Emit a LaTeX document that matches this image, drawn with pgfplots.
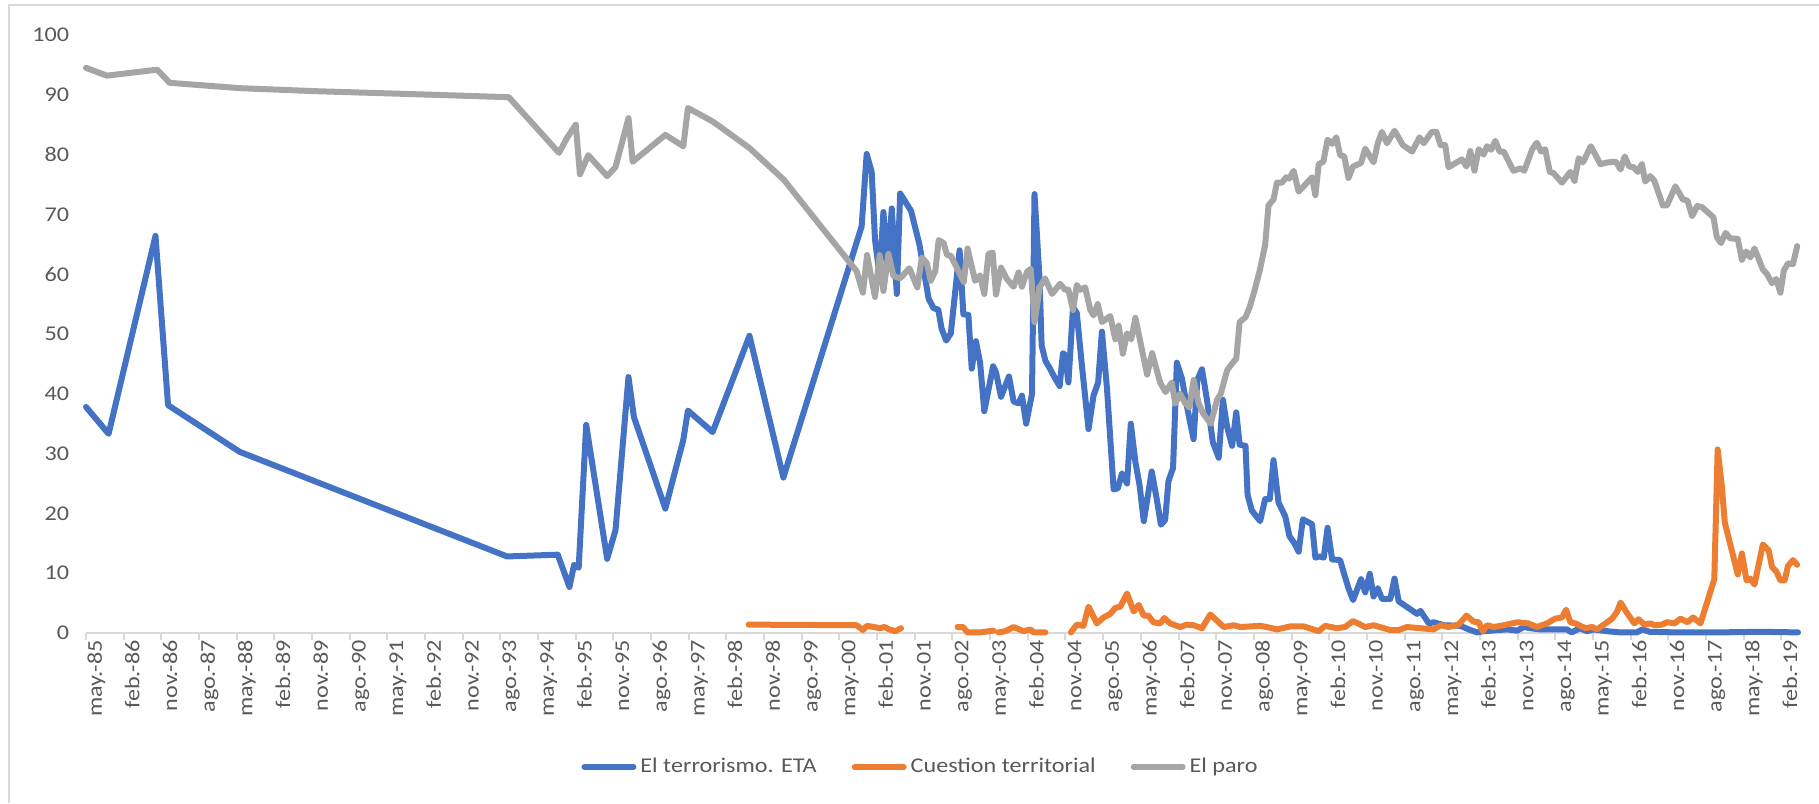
\documentclass[border=0pt]{standalone}
\usepackage{pgfplots}
\pgfplotsset{compat=1.18}
\usepackage{fontspec}
\setmainfont{Carlito}[FakeStretch=1.15]
\definecolor{etablue}{HTML}{4472C4}
\definecolor{terrorange}{HTML}{ED7D31}
\definecolor{parogray}{HTML}{A5A5A5}
\definecolor{textgray}{HTML}{595959}
\definecolor{axisgray}{HTML}{D9D9D9}
\newcommand\lbl{\fontsize{10.5pt}{12.5pt}\selectfont}
\begin{document}
\begin{tikzpicture}
\useasboundingbox (-43pt,-85pt) rectangle (866.5pt,316.5pt);
\draw[color=axisgray, line width=0.75pt] (-38.5pt,-85pt) -- (-38.5pt,314pt) -- (866.5pt,314pt);
\begin{axis}[
  at={(0pt,0pt)}, anchor=south west,
  scale only axis, width=856pt, height=299pt,
  xmin=0, xmax=409, ymin=0, ymax=100,
  clip=false,
  unbounded coords=jump,
  axis lines*=left,
  axis line style={-},
  x axis line style={draw=axisgray, line width=1pt},
  y axis line style={draw=none},
  tick align=outside,
  major tick length=3.5pt,
  xtick style={draw=axisgray, line width=1pt},
  ytick style={draw=none},
  xtick={0,9,...,405},
  xticklabels={may.-85,feb.-86,nov.-86,ago.-87,may.-88,feb.-89,nov.-89,ago.-90,may.-91,feb.-92,nov.-92,ago.-93,may.-94,feb.-95,nov.-95,ago.-96,may.-97,feb.-98,nov.-98,ago.-99,may.-00,feb.-01,nov.-01,ago.-02,may.-03,feb.-04,nov.-04,ago.-05,may.-06,feb.-07,nov.-07,ago.-08,may.-09,feb.-10,nov.-10,ago.-11,may.-12,feb.-13,nov.-13,ago.-14,may.-15,feb.-16,nov.-16,ago.-17,may.-18,feb.-19},
  ytick={0,10,...,100},
  /pgf/number format/assume math mode=true,
  tick label style={font=\lbl, text=textgray},
  xticklabel style={rotate=90, anchor=east, inner sep=0pt, text height=6.8pt, text depth=0pt, yshift=-4.5pt},
  yticklabel style={anchor=east, inner sep=0pt, xshift=-4.75pt},
  legend style={at={(0.488,-0.224)}, anchor=center, draw=none, fill=none,
    legend columns=3, font=\lbl, text=textgray,
    nodes={inner sep=2pt},
    /tikz/every even column/.append style={column sep=15.5pt}},
  legend image code/.code={\draw[#1, line width=3pt, line cap=round] (0pt,0pt) -- (24.5pt,0pt);},
  every axis plot/.append style={line width=3pt, line join=round, line cap=round, mark=none},
]
\addplot[etablue] coordinates {
(0,37.8) (5.4,33.3) (16.6,66.4) (19.6,38.1) (36.7,30.3) (100.6,12.8) (112.7,13.1) (115.5,7.7) (116.6,11.4) (117.7,10.9)
(119.5,34.8) (124.5,12.4) (126.5,17.2) (129.6,42.8) (130.9,36.1) (138.4,20.8) (142.7,32.3) (143.8,37.2) (149.7,33.6) (158.5,49.7)
(166.6,26.0) (185.3,68.0) (186.5,80.1) (187.7,77.1) (188.5,65.7) (189.6,59.8) (190.5,70.4) (191.5,61.2) (192.5,71.0) (193.7,56.7)
(194.5,73.5) (197.1,70.6) (199.1,65.0) (201.3,55.9) (202.5,54.3) (203.6,54.1) (204.4,50.9) (205.5,48.9) (206.6,50.1) (208.7,64.0)
(209.6,53.3) (210.8,53.2) (211.6,44.2) (212.6,48.8) (213.6,45.2) (214.6,37.1) (216.7,44.6) (217.4,43.6) (218.6,39.5) (220.5,42.9)
(221.6,38.7) (222.8,38.4) (223.6,39.7) (224.6,35.0) (226.0,40.0) (226.6,73.4) (227.8,59.2) (228.3,48.1) (229.2,45.5) (230.3,44.2)
(231.5,42.6) (232.6,41.3) (233.4,46.8) (233.9,46.5) (234.7,41.9) (235.8,54.5) (236.7,53.5) (237.9,44.9) (239.5,34.1) (240.7,39.7)
(241.8,41.9) (242.7,50.4) (243.9,41.0) (245.5,24.0) (246.5,24.2) (247.5,26.7) (248.7,25.0) (249.6,35.0) (250.7,28.6) (251.7,24.7)
(252.7,18.7) (254.6,27.0) (255.7,22.8) (256.8,18.1) (257.8,18.9) (258.6,25.4) (259.7,27.6) (260.6,45.2) (261.8,42.6) (262.8,38.7)
(263.6,35.8) (264.6,32.4) (265.5,42.3) (266.6,44.1) (267.8,39.0) (269.2,31.9) (270.6,29.3) (271.6,39.0) (272.6,34.5) (273.8,31.3)
(274.8,36.9) (275.6,31.5) (277.0,31.3) (277.5,23.1) (278.5,20.5) (280.5,18.7) (281.7,22.4) (282.8,22.4) (283.7,28.9) (284.9,21.8)
(286.5,19.5) (287.5,16.2) (288.6,15.1) (289.7,13.6) (290.7,19.0) (292.9,18.2) (293.7,12.6) (294.7,12.8) (295.7,12.6) (296.6,17.6)
(297.7,12.3) (299.6,12.2) (300.6,9.8) (301.6,7.5) (302.7,5.5) (304.6,9.0) (305.6,6.8) (306.7,9.9) (307.6,6.1) (308.6,7.5)
(309.6,5.7) (311.6,5.7) (312.6,9.1) (313.6,5.3) (318.0,3.2) (318.8,3.7) (320.8,1.6) (322.0,1.8) (324.4,1.3) (328.3,1.2)
(330.7,0.5) (332.3,0.1) (333.9,0.3) (339.5,0.6) (341.9,0.4) (343.5,1.0) (345.0,0.8) (347.4,0.6) (350.6,0.6) (353.8,0.6)
(354.9,0.1) (356.9,0.8) (358.6,0.3) (360.2,0.6) (363.4,0.3) (366.5,0.1) (370.5,0.1) (371.8,0.6) (373.5,0.2) (380,0.1)
(390,0.1) (400,0.2) (409,0.1)
};
\addlegendentry{El terrorismo. ETA}
\addplot[terrorange] coordinates {
(158.3,1.4) (184.1,1.3) (185.6,0.5) (186.6,1.2) (188.2,1.0) (189.7,0.8) (190.7,1.0) (191.9,0.6) (193.3,0.3) (194.7,0.8)
(200,nan)
(208.2,1.0) (209.5,1.0) (210.6,0.1) (213.6,0.1) (216.8,0.4)
(217.4,nan)
(218.0,0.1) (219.6,0.3) (221.6,1.0) (224.0,0.3) (225.6,0.6) (226.4,0.1) (229.2,0.1)
(232,nan)
(235.3,0.1) (236.7,1.4) (238.3,1.2) (239.5,4.4) (241.5,1.6) (243.1,2.6) (244.7,3.2) (245.9,4.2) (247.1,4.4) (248.7,6.6)
(250.3,3.6) (251.5,4.7) (252.7,2.9) (253.8,2.9) (255.0,1.8) (256.6,1.6) (257.6,2.5) (259.0,1.6) (261.4,1.0) (263.0,1.4)
(264.6,1.3) (266.6,0.8) (268.6,3.1) (271.8,1.0) (274.2,1.3) (275.8,1.0) (280.5,1.2) (282.1,1.0) (284.5,0.6) (287.7,1.1)
(290.9,1.1) (294.5,0.3) (296.0,1.2) (298.8,0.8) (300.8,1.0) (302.7,2.0) (305.6,1.0) (307.6,1.3) (311.6,0.5) (313.6,0.5)
(315.6,1.0) (318.8,0.8) (321.9,0.6) (323.7,1.3) (325.5,1.0) (327.9,1.4) (329.8,2.9) (331.5,1.9) (332.7,1.8) (333.7,0.3)
(334.7,1.3) (336.3,1.0) (338.7,1.3) (341.9,1.8) (344.6,1.6) (346.6,1.0) (349.0,1.6) (351.0,2.4) (352.6,2.6) (353.6,3.9)
(354.6,1.8) (355.8,1.6) (358.2,0.8) (359.8,1.0) (361.0,0.6) (364.6,2.4) (365.8,3.6) (366.6,5.1) (368.1,3.4) (369.9,1.6)
(370.9,2.3) (372.3,1.4) (373.7,1.6) (374.8,1.3) (376.5,1.4) (377.7,1.8) (379.5,1.6) (380.9,2.4) (382.6,1.8) (383.9,2.6)
(385.7,1.6) (389.0,9.0) (389.8,30.7) (390.8,24.5) (391.5,18.5) (394.6,9.8) (395.6,13.3) (396.7,8.8) (397.6,9.1) (398.6,8.1)
(400.6,14.8) (402.0,13.8) (402.8,11.0) (403.8,10.3) (404.8,8.8) (405.8,8.8) (406.6,11.2) (407.8,12.2) (408.8,11.4)
};
\addlegendentry{Cuestion territorial}
\addplot[parogray] coordinates {
(0,94.5) (5,93.2) (17,94.2) (20,92.0) (37,91.1) (55,90.6) (74,90.2) (101,89.6) (113,80.3) (115,82.9)
(117,85.0) (118,76.7) (120,79.9) (124.5,76.4) (126.5,77.9) (129.6,86.1) (130.6,78.8) (138.4,83.3) (142.7,81.4) (143.8,87.8)
(149.8,85.5) (158.5,81.1) (166.7,75.8) (184.1,60.5) (185.6,56.9) (186.6,63.2) (188.5,56.2) (189.6,63.2) (190.5,57.2) (191.7,63.4)
(192.9,59.7) (194.5,59.3) (196.7,61.0) (198.6,57.8) (199.7,62.8) (200.9,61.8) (201.8,58.9) (202.9,60.5) (203.7,65.7) (204.9,65.2)
(205.7,63.2) (206.6,63.1) (209.7,58.7) (210.6,64.3) (212.4,58.9) (213.6,59.8) (214.6,56.7) (215.6,63.4) (216.6,63.6) (217.4,56.6)
(218.6,61.1) (220.0,59.2) (221.6,57.9) (222.8,60.3) (223.6,57.9) (224.8,60.4) (225.7,60.9) (226.6,52.0) (227.9,57.9) (229.1,59.3)
(230.8,56.7) (232.7,58.4) (233.9,57.4) (234.7,57.4) (235.8,54.0) (236.7,58.2) (237.5,57.4) (238.7,57.8) (239.9,54.1) (240.7,53.1)
(241.7,55.0) (242.7,52.0) (244.7,53.0) (245.9,49.1) (246.7,51.4) (247.7,46.7) (248.7,50.1) (249.7,49.1) (250.7,52.7) (253.5,43.2)
(254.7,46.8) (256.6,41.9) (257.9,40.3) (259.4,41.9) (260.2,38.4) (261.4,40.0) (262.6,38.4) (263.6,37.7) (264.6,42.3) (265.8,38.4)
(266.9,36.7) (268.7,35.0) (270.2,39.0) (271.1,40.0) (272.6,43.9) (273.4,44.7) (274.8,45.9) (275.6,52.0) (277.0,52.8) (278.0,54.5)
(279.1,57.1) (280.4,60.6) (281.7,64.9) (282.5,71.5) (283.7,72.5) (284.5,75.3) (285.7,75.3) (286.7,76.2) (287.5,76.0) (288.5,77.3)
(289.7,73.8) (292.9,76.2) (293.7,73.2) (294.5,78.4) (295.6,78.8) (296.6,82.5) (297.7,81.8) (298.7,82.9) (299.6,79.9) (300.6,79.7)
(301.6,76.1) (302.7,78.0) (304.6,78.6) (305.6,81.0) (307.6,78.7) (308.6,81.9) (309.6,83.8) (310.8,81.9) (312.6,84.0) (314.6,81.6)
(316.8,80.5) (318.6,82.9) (319.6,81.9) (321.5,83.8) (322.6,83.8) (323.6,81.6) (324.7,81.6) (325.5,77.9) (328.7,79.2) (329.8,78.0)
(330.7,80.6) (331.7,77.3) (332.7,80.9) (333.9,80.0) (334.7,81.4) (335.7,80.8) (336.7,82.3) (337.7,80.5) (338.7,80.5) (341.0,77.3)
(342.7,77.7) (343.6,77.3) (345.5,80.9) (346.6,82.0) (347.6,80.5) (348.6,80.9) (349.7,77.1) (350.6,76.9) (352.6,75.3) (354.6,77.1)
(355.6,75.6) (356.6,79.4) (357.6,78.7) (359.5,81.4) (361.8,78.4) (363.5,78.7) (365.5,78.8) (366.6,77.5) (367.6,79.7) (368.7,78.0)
(369.7,77.9) (370.7,77.1) (371.7,78.4) (372.5,75.5) (373.7,76.4) (374.7,75.6) (376.7,71.5) (377.7,71.5) (379.7,74.7) (381.5,72.5)
(382.6,72.3) (383.7,69.7) (384.9,71.4) (386.1,71.2) (388.8,69.5) (389.6,66.2) (390.6,65.2) (391.7,66.9) (392.8,66.0) (394.6,65.9)
(395.6,62.4) (396.6,63.8) (397.6,62.8) (398.6,64.3) (400.6,60.8) (401.6,60.0) (402.8,58.5) (403.8,59.2) (404.8,56.9) (405.6,60.6)
(406.6,61.8) (407.8,61.7) (408.8,64.7)
};
\addlegendentry{El paro}
\end{axis}
\end{tikzpicture}
\end{document}
